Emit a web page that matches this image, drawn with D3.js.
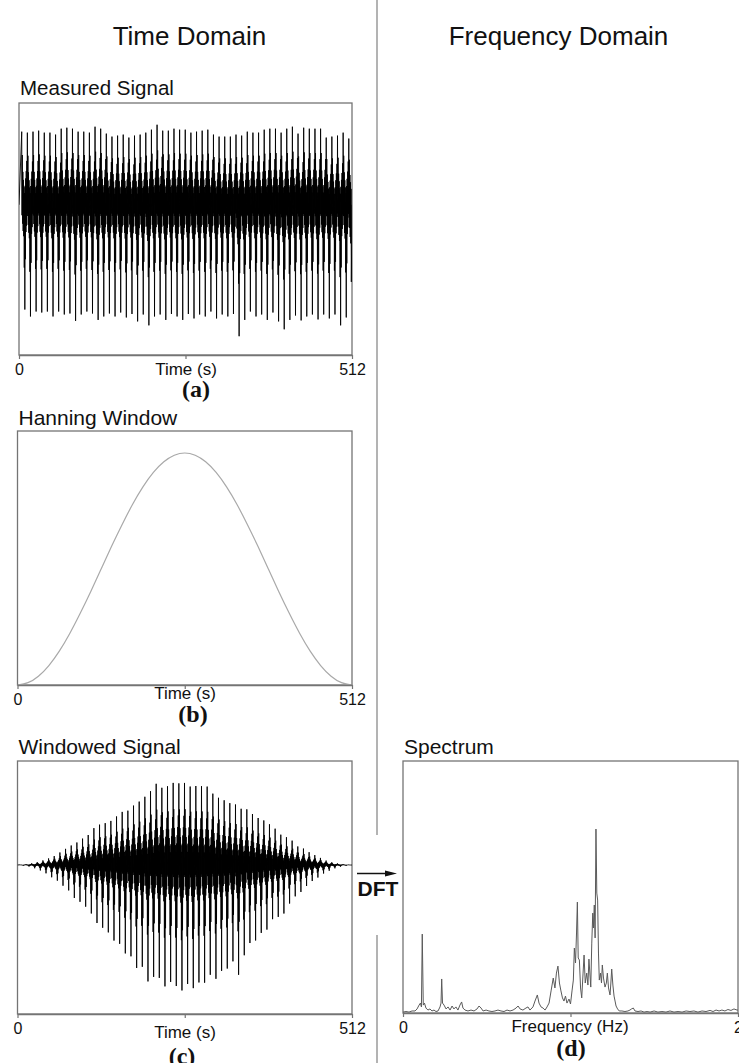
<!DOCTYPE html>
<html>
<head>
<meta charset="utf-8">
<script src="https://cdn.jsdelivr.net/npm/d3@7"></script>
<style>
  html, body { margin: 0; padding: 0; background: #fff; }
  svg { display: block; }
  text { font-family: "Liberation Sans", Arial, Helvetica, sans-serif; fill: #111; }
  .letter { font-family: "Liberation Serif", "Times New Roman", serif; font-weight: bold; }
</style>
</head>
<body>
<svg id="fig" width="739" height="1063"></svg>
<script>
// ---- data -------------------------------------------------------------
const timeTicks = [0, 256, 512];
const timeTickLabels = ["0", "", "512"];
const freqTicks = [0, 1, 2];
const freqTickLabels = ["0", "", "2"];

// beat timing of the measured record (s)
const beatStart = 4.2;
const beatPeriod = 8.67;

// per-beat positive peak and negative trough of the measured signal
const beatTops = [
  0.74, 0.73, 0.74, 0.75, 0.73, 0.73, 0.71, 0.77, 0.78, 0.77,
  0.74, 0.74, 0.73, 0.79, 0.77, 0.72, 0.69, 0.70, 0.71, 0.68,
  0.70, 0.71, 0.73, 0.76, 0.81, 0.75, 0.75, 0.77, 0.76, 0.76,
  0.73, 0.74, 0.75, 0.76, 0.71, 0.69, 0.69, 0.69, 0.71, 0.70,
  0.74, 0.73, 0.73, 0.76, 0.77, 0.77, 0.73, 0.77, 0.79, 0.72,
  0.78, 0.77, 0.77, 0.77, 0.68, 0.69, 0.70, 0.73, 0.67
];
const beatBottoms = [
  -1.06, -1.13, -1.08, -1.09, -1.08, -1.13, -1.08, -1.11, -1.10, -1.175,
  -1.11, -1.08, -1.10, -1.165, -1.13, -1.10, -1.13, -1.09, -1.14, -1.105,
  -1.18, -1.11, -1.22, -1.13, -1.11, -1.165, -1.105, -1.13, -1.165, -1.105,
  -1.15, -1.11, -1.13, -1.08, -1.15, -1.11, -1.13, -1.105, -1.33, -1.165,
  -1.08, -1.13, -1.11, -1.165, -1.09, -1.18, -1.26, -1.165, -1.12, -1.17,
  -1.13, -1.11, -1.16, -1.11, -1.15, -1.11, -1.22, -1.14, -1.30
];
// waveform of one beat: [phase within beat, fraction of peak (+) or trough (-)]
const beatShape = [
  [0.00, 1.00], [0.05, -0.10], [0.10, 0.68], [0.15, -0.18], [0.20, 0.45],
  [0.25, -0.25], [0.30, 0.34], [0.35, -0.30], [0.40, 0.24], [0.45, -0.60],
  [0.50, 0.16], [0.55, -1.00], [0.60, 0.26], [0.65, -0.52], [0.70, 0.36],
  [0.75, -0.26], [0.80, 0.46], [0.85, -0.20], [0.90, 0.60], [0.95, -0.08]
];

// Hanning window samples
const windowTimes = [0, 16, 32, 48, 64, 80, 96, 112, 128, 144, 160, 176, 192, 208, 224, 240, 256,
  272, 288, 304, 320, 336, 352, 368, 384, 400, 416, 432, 448, 464, 480, 496, 512];
const windowValues = [0.000, 0.010, 0.038, 0.084, 0.146, 0.222, 0.309, 0.402, 0.500, 0.598, 0.691,
  0.778, 0.854, 0.916, 0.962, 0.990, 1.000, 0.990, 0.962, 0.916, 0.854, 0.778, 0.691, 0.598,
  0.500, 0.402, 0.309, 0.222, 0.146, 0.084, 0.038, 0.010, 0.000];

// amplitude spectrum of the windowed signal: [frequency (Hz), magnitude]
const spectrum = [
  [0.000, .005], [0.018, .008], [0.036, .005], [0.054, .011], [0.072, .011], [0.084, .022],
  [0.096, .043], [0.104, .054], [0.110, .033], [0.115, .429], [0.121, .043], [0.128, .054],
  [0.137, .027], [0.149, .016], [0.161, .022], [0.173, .011], [0.185, .016], [0.197, .008],
  [0.209, .011], [0.221, .033], [0.227, .054], [0.231, .185], [0.236, .054], [0.245, .043],
  [0.257, .022], [0.269, .033], [0.281, .016], [0.293, .038], [0.304, .022], [0.316, .033],
  [0.328, .016], [0.340, .043], [0.350, .060], [0.358, .027], [0.370, .016], [0.388, .011],
  [0.406, .016], [0.424, .011], [0.442, .022], [0.454, .038], [0.466, .027], [0.478, .011],
  [0.496, .016], [0.513, .011], [0.531, .008], [0.549, .011], [0.567, .016], [0.585, .011],
  [0.603, .008], [0.621, .016], [0.639, .011], [0.657, .016], [0.675, .027], [0.687, .038],
  [0.699, .022], [0.716, .016], [0.734, .027], [0.746, .033], [0.758, .016], [0.776, .033],
  [0.788, .065], [0.802, .098], [0.812, .054], [0.824, .033], [0.836, .027], [0.848, .016],
  [0.860, .033], [0.872, .054], [0.884, .120], [0.897, .190], [0.907, .136], [0.916, .217],
  [0.925, .255], [0.934, .163], [0.943, .120], [0.952, .082], [0.961, .065], [0.970, .092],
  [0.979, .054], [0.991, .076], [1.000, .049], [1.009, .120], [1.017, .179], [1.023, .353],
  [1.030, .272], [1.036, .435], [1.041, .603], [1.046, .299], [1.053, .288], [1.060, .136],
  [1.067, .082], [1.075, .217], [1.081, .315], [1.088, .163], [1.097, .217], [1.104, .152],
  [1.110, .293], [1.121, .141], [1.127, .380], [1.133, .543], [1.137, .462], [1.142, .587],
  [1.147, .408], [1.152, 1.000], [1.157, .652], [1.162, .614], [1.167, .326], [1.172, .179],
  [1.179, .217], [1.185, .163], [1.190, .261], [1.197, .190], [1.206, .141], [1.214, .163],
  [1.220, .217], [1.227, .136], [1.236, .098], [1.241, .163], [1.246, .239], [1.253, .152],
  [1.260, .092], [1.266, .065], [1.272, .038], [1.281, .022], [1.291, .011], [1.307, .011],
  [1.325, .008], [1.343, .011], [1.355, .016], [1.364, .022], [1.375, .027], [1.385, .011],
  [1.403, .008], [1.421, .011], [1.439, .005], [1.457, .008], [1.475, .005], [1.499, .011],
  [1.522, .005], [1.546, .008], [1.570, .005], [1.594, .011], [1.618, .005], [1.642, .008],
  [1.666, .005], [1.690, .011], [1.713, .008], [1.737, .011], [1.761, .005], [1.785, .011],
  [1.809, .008], [1.833, .014], [1.851, .008], [1.869, .016], [1.887, .011], [1.904, .016],
  [1.922, .011], [1.940, .019], [1.958, .014], [1.976, .022], [1.994, .016], [2.000, .016]
];

// ---- drawing ----------------------------------------------------------
const svg = d3.select("#fig");
const frameColor = "#747474";

// column headings and the divider between the two domains
svg.append("text").attr("x", 189.5).attr("y", 45).attr("text-anchor", "middle")
  .style("font-size", "26px").text("Time Domain");
svg.append("text").attr("x", 558.5).attr("y", 45).attr("text-anchor", "middle")
  .style("font-size", "26px").text("Frequency Domain");
svg.append("line").attr("x1", 377).attr("x2", 377).attr("y1", 0).attr("y2", 835)
  .attr("stroke", "#8a8a8a").attr("stroke-width", 1.3);
svg.append("line").attr("x1", 377).attr("x2", 377).attr("y1", 935).attr("y2", 1063)
  .attr("stroke", "#8a8a8a").attr("stroke-width", 1.3);

// panel frame, title, x axis and labels
function panel(cfg) {
  const g = svg.append("g");
  g.append("rect").attr("x", cfg.x0).attr("y", cfg.y0)
    .attr("width", cfg.x1 - cfg.x0).attr("height", cfg.y1 - cfg.y0)
    .attr("fill", "#fff").attr("stroke", frameColor).attr("stroke-width", 1.3);
  g.append("text").attr("x", cfg.x0 + 1).attr("y", cfg.titleY)
    .style("font-size", cfg.titleSize + "px").text(cfg.title);
  const clipId = "clip-" + cfg.id;
  g.append("clipPath").attr("id", clipId).append("rect")
    .attr("x", cfg.x0).attr("y", cfg.y0).attr("width", cfg.x1 - cfg.x0).attr("height", cfg.y1 - cfg.y0);
  const plot = g.append("g").attr("clip-path", `url(#${clipId})`);
  const axis = d3.axisBottom(cfg.x).tickValues(cfg.ticks)
    .tickFormat((d, i) => cfg.tickLabels[i]).tickSize(4).tickSizeOuter(0).tickPadding(4.5);
  const ax = g.append("g").attr("transform", `translate(0,${cfg.y1})`).call(axis);
  ax.select(".domain").attr("stroke", frameColor).attr("stroke-width", 1.3);
  ax.selectAll(".tick line").attr("stroke", frameColor).attr("stroke-width", 1.2);
  ax.selectAll(".tick text").attr("fill", "#111")
    .style("font-family", '"Liberation Sans", Arial, sans-serif').style("font-size", "16px");
  g.append("text").attr("x", cfg.axisTitleX).attr("y", cfg.axisTitleY).attr("text-anchor", "middle")
    .style("font-size", "17px").text(cfg.axisTitle);
  g.append("text").attr("class", "letter").attr("x", cfg.letterX).attr("y", cfg.letterY)
    .attr("text-anchor", "middle").style("font-size", "24px").text(cfg.letter);
  return plot;
}

// evaluate the window between its samples
const windowAt = d3.scaleLinear().domain(windowTimes).range(windowValues).clamp(true);

function signalPoints(applyWindow) {
  const pts = [[0, 0]];
  beatTops.forEach((top, i) => {
    const t0 = beatStart + i * beatPeriod;
    beatShape.forEach(([ph, c]) => {
      const t = t0 + ph * beatPeriod;
      if (t > 511) return;
      let v = c >= 0 ? c * top : -c * beatBottoms[i];
      if (applyWindow) v *= windowAt(t);
      pts.push([t, v]);
    });
  });
  pts.push([512, 0]);
  return pts;
}

// (a) measured signal
{
  const x = d3.scaleLinear().domain([0, 512]).range([19, 352]);
  const y = d3.scaleLinear().domain([-1.52, 1.03]).range([355, 103]);
  const plot = panel({ id: "a", x0: 19, x1: 352, y0: 103, y1: 355, x, ticks: timeTicks,
    tickLabels: timeTickLabels, title: "Measured Signal", titleY: 94.5, titleSize: 20.5,
    axisTitle: "Time (s)", axisTitleX: 186, axisTitleY: 374.5, letter: "(a)", letterX: 196, letterY: 397 });
  plot.append("path").datum(signalPoints(false))
    .attr("d", d3.line().x(d => x(d[0])).y(d => y(d[1])))
    .attr("fill", "none").attr("stroke", "#000").attr("stroke-width", 0.9).attr("stroke-linejoin", "round");
}

// (b) Hanning window
{
  const x = d3.scaleLinear().domain([0, 512]).range([17.5, 352]);
  const y = d3.scaleLinear().domain([0, 1]).range([685, 453]);
  const plot = panel({ id: "b", x0: 17.5, x1: 352, y0: 431, y1: 685, x, ticks: timeTicks,
    tickLabels: timeTickLabels, title: "Hanning Window", titleY: 425, titleSize: 21,
    axisTitle: "Time (s)", axisTitleX: 185, axisTitleY: 699, letter: "(b)", letterX: 193, letterY: 722 });
  plot.append("path").datum(d3.zip(windowTimes, windowValues))
    .attr("d", d3.line().x(d => x(d[0])).y(d => y(d[1])).curve(d3.curveNatural))
    .attr("fill", "none").attr("stroke", "#a9a9a9").attr("stroke-width", 1.2);
}

// (c) windowed signal
{
  const x = d3.scaleLinear().domain([0, 512]).range([17.5, 352]);
  const y = d3.scaleLinear().domain([-1.38, 0.963]).range([1014, 761]);
  const plot = panel({ id: "c", x0: 17.5, x1: 352, y0: 761, y1: 1014, x, ticks: timeTicks,
    tickLabels: timeTickLabels, title: "Windowed Signal", titleY: 753.5, titleSize: 21,
    axisTitle: "Time (s)", axisTitleX: 185, axisTitleY: 1038, letter: "(c)", letterX: 182, letterY: 1064 });
  plot.append("path").datum(signalPoints(true))
    .attr("d", d3.line().x(d => x(d[0])).y(d => y(d[1])))
    .attr("fill", "none").attr("stroke", "#000").attr("stroke-width", 0.9).attr("stroke-linejoin", "round");
}

// (d) spectrum
{
  const x = d3.scaleLinear().domain([0, 2]).range([403, 738]);
  const y = d3.scaleLinear().domain([0, 1.37]).range([1013, 761]);
  const plot = panel({ id: "d", x0: 403, x1: 738, y0: 761, y1: 1013, x, ticks: freqTicks,
    tickLabels: freqTickLabels, title: "Spectrum", titleY: 753.5, titleSize: 21,
    axisTitle: "Frequency (Hz)", axisTitleX: 570, axisTitleY: 1032, letter: "(d)", letterX: 571, letterY: 1056 });
  plot.append("path").datum(spectrum)
    .attr("d", d3.line().x(d => x(d[0])).y(d => y(d[1])))
    .attr("fill", "none").attr("stroke", "#5a5a5a").attr("stroke-width", 1).attr("stroke-linejoin", "round");
}

// DFT arrow between (c) and (d)
svg.append("line").attr("x1", 357).attr("x2", 388).attr("y1", 873.5).attr("y2", 873.5)
  .attr("stroke", "#111").attr("stroke-width", 1.5);
svg.append("path").attr("d", "M385,870.5 L397,873.5 L385,876.5 Z").attr("fill", "#111");
svg.append("text").attr("x", 378).attr("y", 896).attr("text-anchor", "middle")
  .style("font-size", "21px").style("font-weight", "bold").text("DFT");
</script>
</body>
</html>
